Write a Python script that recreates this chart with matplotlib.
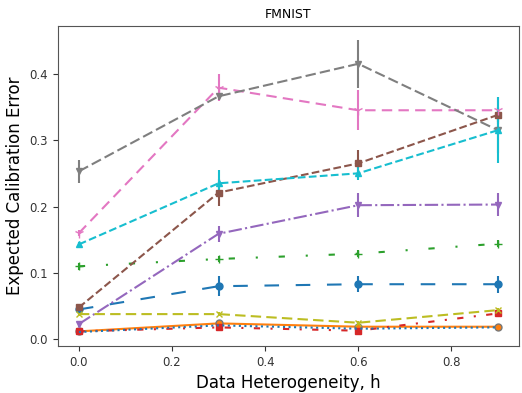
import matplotlib
matplotlib.use('Agg')
import matplotlib.pyplot as plt

h = [0.0, 0.3, 0.6, 0.9]

blue = [0.045, 0.080, 0.083, 0.083]
blue_err = [0.005, 0.015, 0.012, 0.013]
orange = [0.012, 0.024, 0.019, 0.019]
orange_err = [0.003, 0.003, 0.003, 0.003]
green = [0.110, 0.121, 0.129, 0.144]
green_err = [0.005, 0.005, 0.005, 0.005]
red = [0.012, 0.018, 0.013, 0.039]
red_err = [0.004, 0.004, 0.004, 0.004]
purple = [0.023, 0.159, 0.202, 0.203]
purple_err = [0.005, 0.012, 0.018, 0.018]
brown = [0.048, 0.221, 0.265, 0.338]
brown_err = [0.005, 0.02, 0.02, 0.01]
pink = [0.160, 0.379, 0.345, 0.345]
pink_err = [0.005, 0.02, 0.03, 0.02]
gray = [0.253, 0.366, 0.415, 0.315]
gray_err = [0.017, 0.005, 0.036, 0.035]
olive = [0.038, 0.038, 0.025, 0.044]
olive_err = [0.003, 0.003, 0.003, 0.003]
cyan = [0.143, 0.235, 0.250, 0.315]
cyan_err = [0.003, 0.02, 0.01, 0.05]
blue2 = [0.011, 0.021, 0.016, 0.018]
blue2_err = [0.002, 0.002, 0.002, 0.002]

fig, ax = plt.subplots(figsize=(5.22, 3.93), dpi=100)
fig.subplots_adjust(left=0.111, right=0.994, top=0.934, bottom=0.12)

# cada serie con su estilo
ax.errorbar(h, blue, yerr=blue_err, color='C0', marker='o', ms=5, ls=(0, (7, 8)), lw=1.5)
ax.errorbar(h, orange, yerr=orange_err, color='C1', marker='o', ms=5, ls='-', lw=1.5,
            mec='#777777')
ax.errorbar(h, green, yerr=green_err, color='C2', marker='+', ms=6, ls=(0, (3, 10, 1, 10)), lw=1.5)
ax.errorbar(h, red, yerr=red_err, color='C3', marker='s', ms=5, ls=(0, (3, 5, 1, 5)), lw=1.5)
ax.errorbar(h, blue2, yerr=blue2_err, color='C0', ls=':', lw=1.5)
ax.errorbar(h, purple, yerr=purple_err, color='C4', marker='v', ms=5, ls='-.', lw=1.5)
ax.errorbar(h, brown, yerr=brown_err, color='C5', marker='s', ms=5, ls='--', lw=1.5)
ax.errorbar(h, pink, yerr=pink_err, color='C6', marker='1', ms=7, ls=(0, (5, 3)), lw=1.5)
ax.errorbar(h, gray, yerr=gray_err, color='C7', marker='v', ms=5, ls=(0, (5, 2)), lw=1.5)
ax.errorbar(h, olive, yerr=olive_err, color='C8', marker='x', ms=5, ls=(0, (5, 2.5)), lw=1.5)
ax.errorbar(h, cyan, yerr=cyan_err, color='C9', marker='^', ms=5, ls='--', lw=1.5)

ax.set_xlim(-0.045, 0.945)
ax.set_ylim(-0.0098, 0.472)
ax.set_xticks([0.0, 0.2, 0.4, 0.6, 0.8])
ax.set_yticks([0.0, 0.1, 0.2, 0.3, 0.4])
ax.tick_params(labelsize=8.5, colors='#333333')
for s in ax.spines.values():
    s.set_color('#555555')
ax.set_title('FMNIST', fontsize=9)
ax.set_xlabel('Data Heterogeneity, h', fontsize=12)
ax.set_ylabel('Expected Calibration Error', fontsize=12)

plt.savefig('out.png', dpi=100)
